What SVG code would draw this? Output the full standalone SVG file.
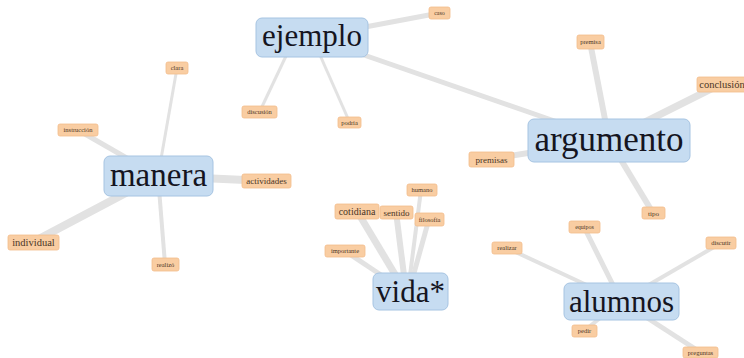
<svg xmlns="http://www.w3.org/2000/svg" width="744" height="358" viewBox="0 0 744 358">
<style>
.e{stroke:#e2e2e2;stroke-linecap:butt;fill:none}
.hub rect{fill:#c6dcf1;stroke:#a6c4e2;stroke-width:1}
.hub text{font-family:"Liberation Serif","DejaVu Serif",serif;fill:#15151f;text-anchor:middle}
.lab rect{fill:#f9cda2;stroke:#f3bd8c;stroke-width:0.8}
.lab text{font-family:"Liberation Serif","DejaVu Serif",serif;fill:#4a3525;text-anchor:middle}
</style>
<rect width="744" height="358" fill="#ffffff"/>
<g id="connectors">
<line class="e" x1="312" y1="37" x2="439.5" y2="13" stroke-width="5"/>
<line class="e" x1="312" y1="37" x2="609" y2="140" stroke-width="5"/>
<line class="e" x1="295" y1="37" x2="259.5" y2="112" stroke-width="3"/>
<line class="e" x1="312" y1="37" x2="349.5" y2="122" stroke-width="3"/>
<line class="e" x1="158" y1="176" x2="177" y2="68" stroke-width="3"/>
<line class="e" x1="158" y1="176" x2="78" y2="130" stroke-width="5"/>
<line class="e" x1="158" y1="176" x2="266" y2="181" stroke-width="8"/>
<line class="e" x1="158" y1="176" x2="33" y2="242" stroke-width="8"/>
<line class="e" x1="158" y1="176" x2="165" y2="264" stroke-width="4"/>
<line class="e" x1="609" y1="140" x2="590" y2="42" stroke-width="6"/>
<line class="e" x1="609" y1="140" x2="721" y2="84" stroke-width="7"/>
<line class="e" x1="609" y1="140" x2="491" y2="159" stroke-width="6"/>
<line class="e" x1="609" y1="140" x2="653" y2="213" stroke-width="6"/>
<line class="e" x1="405" y1="291" x2="357" y2="211" stroke-width="7"/>
<line class="e" x1="406" y1="291" x2="396" y2="212" stroke-width="6"/>
<line class="e" x1="408" y1="291" x2="421" y2="190" stroke-width="4"/>
<line class="e" x1="409" y1="291" x2="429" y2="219" stroke-width="5"/>
<line class="e" x1="405" y1="291" x2="345" y2="251" stroke-width="5"/>
<line class="e" x1="621" y1="301" x2="584" y2="227" stroke-width="5"/>
<line class="e" x1="621" y1="301" x2="507" y2="248" stroke-width="4"/>
<line class="e" x1="621" y1="301" x2="721" y2="243" stroke-width="4"/>
<line class="e" x1="621" y1="301" x2="584" y2="331" stroke-width="4"/>
<line class="e" x1="621" y1="301" x2="700" y2="352" stroke-width="5"/>
</g>
<g id="n-caso" class="lab"><rect x="429" y="7" width="21" height="12" rx="2"/><text x="439.5" y="15.3" font-size="6">caso</text></g>
<g id="n-discusion" class="lab"><rect x="242" y="106" width="35" height="12" rx="2"/><text x="259.5" y="114.3" font-size="6.5">discusión</text></g>
<g id="n-podria" class="lab"><rect x="338" y="117" width="23" height="11" rx="2"/><text x="349.5" y="124.8" font-size="6.5">podría</text></g>
<g id="n-clara" class="lab"><rect x="166" y="62" width="22" height="12" rx="2"/><text x="177" y="70.3" font-size="6.5">clara</text></g>
<g id="n-instruccion" class="lab"><rect x="58" y="124" width="40" height="12" rx="2"/><text x="78" y="132.3" font-size="6.5">instrucción</text></g>
<g id="n-actividades" class="lab"><rect x="242" y="174" width="49" height="14" rx="2"/><text x="266.5" y="184.2" font-size="9">actividades</text></g>
<g id="n-individual" class="lab"><rect x="8" y="235" width="51" height="15" rx="2"/><text x="33.5" y="246.2" font-size="10.5">individual</text></g>
<g id="n-realizo" class="lab"><rect x="152" y="258" width="27" height="13" rx="2"/><text x="165.5" y="266.8" font-size="6.5">realizó</text></g>
<g id="n-premisa" class="lab"><rect x="577" y="35" width="27" height="14" rx="2"/><text x="590.5" y="44.3" font-size="6.5">premisa</text></g>
<g id="n-conclusion" class="lab"><rect x="697" y="77" width="52" height="15" rx="2"/><text x="722" y="88" font-size="10.5">conclusión</text></g>
<g id="n-premisas" class="lab"><rect x="469" y="152" width="45" height="15" rx="2"/><text x="491.5" y="162.7" font-size="9">premisas</text></g>
<g id="n-tipo" class="lab"><rect x="642" y="207" width="23" height="12" rx="2"/><text x="653.5" y="215.5" font-size="7">tipo</text></g>
<g id="n-cotidiana" class="lab"><rect x="335" y="204" width="44" height="15" rx="2"/><text x="357" y="215" font-size="10">cotidiana</text></g>
<g id="n-sentido" class="lab"><rect x="380" y="206" width="33" height="13" rx="2"/><text x="396.5" y="215.7" font-size="9">sentido</text></g>
<g id="n-humano" class="lab"><rect x="407" y="184" width="30" height="12" rx="2"/><text x="422" y="192.3" font-size="6.5">humano</text></g>
<g id="n-filosofia" class="lab"><rect x="415" y="213" width="29" height="13" rx="2"/><text x="429.5" y="221.8" font-size="6.5">filosofía</text></g>
<g id="n-importante" class="lab"><rect x="325" y="245" width="40" height="12" rx="2"/><text x="345" y="253.3" font-size="6.5">importante</text></g>
<g id="n-equipos" class="lab"><rect x="569" y="221" width="31" height="12" rx="2"/><text x="584.5" y="229.3" font-size="6">equipos</text></g>
<g id="n-realizar" class="lab"><rect x="492" y="242" width="30" height="12" rx="2"/><text x="507" y="250.3" font-size="6.5">realizar</text></g>
<g id="n-discutir" class="lab"><rect x="706" y="237" width="30" height="12" rx="2"/><text x="721" y="245.3" font-size="6.5">discutir</text></g>
<g id="n-pedir" class="lab"><rect x="572" y="325" width="25" height="12" rx="2"/><text x="584.5" y="333.3" font-size="6.5">pedir</text></g>
<g id="n-preguntas" class="lab"><rect x="683" y="347" width="35" height="11" rx="2"/><text x="700.5" y="354.8" font-size="6.5">preguntas</text></g>
<g id="n-ejemplo" class="hub"><rect x="256" y="18" width="112" height="39" rx="6"/><text x="312" y="46" font-size="31">ejemplo</text></g>
<g id="n-manera" class="hub"><rect x="104" y="156" width="109" height="40" rx="6"/><text x="158.5" y="186" font-size="33">manera</text></g>
<g id="n-argumento" class="hub"><rect x="528" y="119" width="162" height="43" rx="6"/><text x="609" y="151" font-size="35">argumento</text></g>
<g id="n-vida" class="hub"><rect x="373" y="273" width="75" height="37" rx="6"/><text x="410.5" y="302" font-size="31">vida*</text></g>
<g id="n-alumnos" class="hub"><rect x="564" y="283" width="115" height="37" rx="6"/><text x="621.5" y="312" font-size="31">alumnos</text></g>
</svg>
